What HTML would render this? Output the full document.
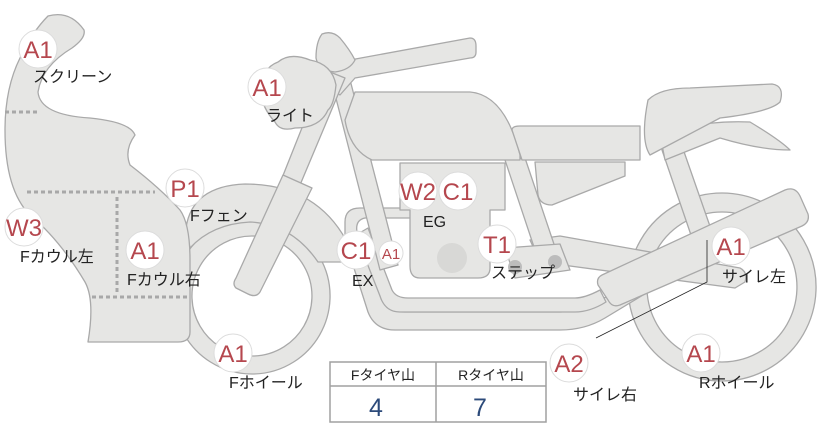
<!DOCTYPE html>
<html><head><meta charset="utf-8"><style>
html,body{margin:0;padding:0;background:#fff;}
svg{display:block}
text{font-family:"Liberation Sans","Noto Sans CJK JP",sans-serif;}
.b{fill:#b5474e;font-size:24px;text-anchor:middle}
.l{fill:#222;font-size:16px}
</style></head><body>
<svg width="822" height="425" viewBox="0 0 822 425" xmlns="http://www.w3.org/2000/svg">
<g fill="#e6e6e4" stroke="#a9a9a9" stroke-width="1.3" stroke-linejoin="round">
<path fill-rule="evenodd" d="M722,193a94,94 0 1,0 0.1,0zM722,212a75,75 0 1,1 -0.1,0z"/>
<path fill-rule="evenodd" d="M252,218a78,78 0 1,0 0.1,0zM252,236a60,60 0 1,1 -0.1,0z"/>
<path d="M186,228 Q192,186 245,184 Q315,184 346,240 L346,262 L318,262 Q292,224 250,222 Q212,224 190,248 Z"/>
<path d="M662,150 L682,146 L712,232 L692,238 Z"/>
<path d="M530,240 L560,236 L740,268 Q748,272 745,282 L735,288 L540,262 Z"/>
<path d="M345,222 Q345,208 360,208 L420,208 L420,218 L365,218 Q355,220 357,232 L385,300 Q390,312 405,312 L560,312 Q580,312 600,300 L640,280 L648,292 L605,318 Q585,330 560,330 L395,330 Q375,330 368,312 L345,240 Z"/>
<path d="M368,228 L392,290 Q396,298 408,298 L575,298 Q585,298 600,290 L606,302 Q590,312 575,312 L400,312 Q385,312 380,296 L356,235 Z"/>
<path d="M330,75 L348,72 L398,265 L380,270 Z"/>
<path d="M505,160 L525,158 L560,262 L540,265 Z"/>
<path d="M400,163 L505,163 L505,210 L490,210 L490,268 Q490,278 478,278 L420,278 Q410,278 410,266 L410,210 L400,210 Z"/>
<path d="M535,162 L625,162 L625,176 L552,205 Q540,205 538,195 Z"/>
<path d="M505,248 L560,244 L570,270 L515,278 Z"/>
<path d="M602,275 L785,190 Q795,186 800,196 L808,214 Q810,222 802,226 L620,305 Q612,308 608,300 L598,285 Q596,278 602,275 Z"/>
<path d="M355,92 L470,92 Q505,95 520,155 L520,160 L372,160 Q350,150 345,120 Z"/>
<path d="M512,130 Q512,126 520,126 L640,126 L640,160 L522,160 Z"/>
<path d="M660,135 Q700,120 750,122 Q780,140 790,150 Q760,150 720,138 L665,160 Z"/>
<path d="M648,100 Q660,88 690,88 L772,84 Q785,86 780,102 Q770,112 720,118 L650,155 Q640,140 648,100 Z"/>
<path d="M318,80 Q330,62 350,60 L470,38 Q476,38 476,46 L476,52 Q476,58 470,58 L355,78 L340,95 Z"/>
<path d="M325,70 L345,78 L300,185 L282,178 Z"/>
<path d="M283,175 L312,188 L260,292 Q256,298 248,294 L236,288 Q232,284 236,278 Z"/>
<path d="M322,34 Q332,30 340,38 Q350,50 355,60 Q350,70 335,72 Q318,70 316,58 Q316,42 322,34 Z"/>
<path d="M278,62 Q290,52 310,60 Q332,64 336,85 Q334,105 328,110 Q320,128 295,128 Q280,132 275,122 Q262,108 260,90 Q262,68 278,62 Z"/>
<path d="M48,16 Q70,10 84,30 Q86,38 72,48 Q42,66 38,92 Q40,115 90,118 Q130,122 135,135 Q124,150 130,165 Q160,188 180,210 Q190,224 190,260 L190,332 Q190,342 178,342 L88,342 Q95,300 85,282 Q60,240 30,215 Q5,190 5,130 Q5,88 20,58 Q32,32 48,16 Z"/>
</g>
<circle cx="452" cy="258" r="15" fill="#d8d8d6"/>
<circle cx="515" cy="267" r="7" fill="#bcbcbc"/>
<circle cx="555" cy="262" r="7" fill="#bcbcbc"/>
<g stroke="#a8a8a8" stroke-width="3" stroke-dasharray="4,3" fill="none">
<line x1="5" y1="112" x2="40" y2="112"/>
<line x1="27" y1="192" x2="155" y2="192"/>
<line x1="117" y1="197" x2="117" y2="292"/>
<line x1="92" y1="297" x2="188" y2="297"/>
</g>
<polyline points="707,240 707,282 596,338" fill="none" stroke="#222" stroke-width="0.8"/>
<g fill="#fff" stroke="#dcdcdc" stroke-width="1">
<circle cx="38" cy="49" r="19"/><circle cx="267" cy="87" r="19"/><circle cx="185" cy="188" r="19"/>
<circle cx="24" cy="227" r="19"/><circle cx="145" cy="250" r="19"/><circle cx="233" cy="353" r="19"/>
<circle cx="356" cy="250" r="19"/><circle cx="391" cy="253" r="12"/><circle cx="418" cy="191" r="19"/>
<circle cx="458" cy="191" r="19"/><circle cx="497" cy="244" r="19"/><circle cx="569" cy="363" r="19"/>
<circle cx="731" cy="246" r="19"/><circle cx="701" cy="353" r="19"/>
</g>
<g class="b">
<text x="38" y="58">A1</text><text x="267" y="96">A1</text><text x="185" y="197">P1</text>
<text x="24" y="236">W3</text><text x="145" y="259">A1</text><text x="233" y="362">A1</text>
<text x="356" y="259">C1</text><text x="391" y="259" style="font-size:15px">A1</text><text x="418" y="200">W2</text>
<text x="458" y="200">C1</text><text x="497" y="253">T1</text><text x="569" y="372">A2</text>
<text x="731" y="255">A1</text><text x="701" y="362">A1</text>
</g>
<g class="l">
<text x="33" y="82">スクリーン</text><text x="266" y="121">ライト</text><text x="190" y="221">Fフェン</text>
<text x="20" y="262">Fカウル左</text><text x="127" y="285">Fカウル右</text><text x="229" y="388">Fホイール</text>
<text x="352" y="286">EX</text><text x="423" y="227">EG</text><text x="491" y="278">ステップ</text>
<text x="722" y="282">サイレ左</text><text x="573" y="400">サイレ右</text><text x="699" y="388">Rホイール</text>
</g>
<g fill="none" stroke="#a0a0a0" stroke-width="1.5">
<rect x="330" y="362" width="216" height="60"/>
<line x1="330" y1="386" x2="546" y2="386"/>
<line x1="436" y1="362" x2="436" y2="422"/>
</g>
<text x="383" y="380" class="l" style="font-size:14px" text-anchor="middle">Fタイヤ山</text>
<text x="491" y="380" class="l" style="font-size:14px" text-anchor="middle">Rタイヤ山</text>
<text x="376" y="416" style="font-size:25px;fill:#2c4a7a" text-anchor="middle">4</text>
<text x="480" y="416" style="font-size:25px;fill:#2c4a7a" text-anchor="middle">7</text>
</svg>
</body></html>
